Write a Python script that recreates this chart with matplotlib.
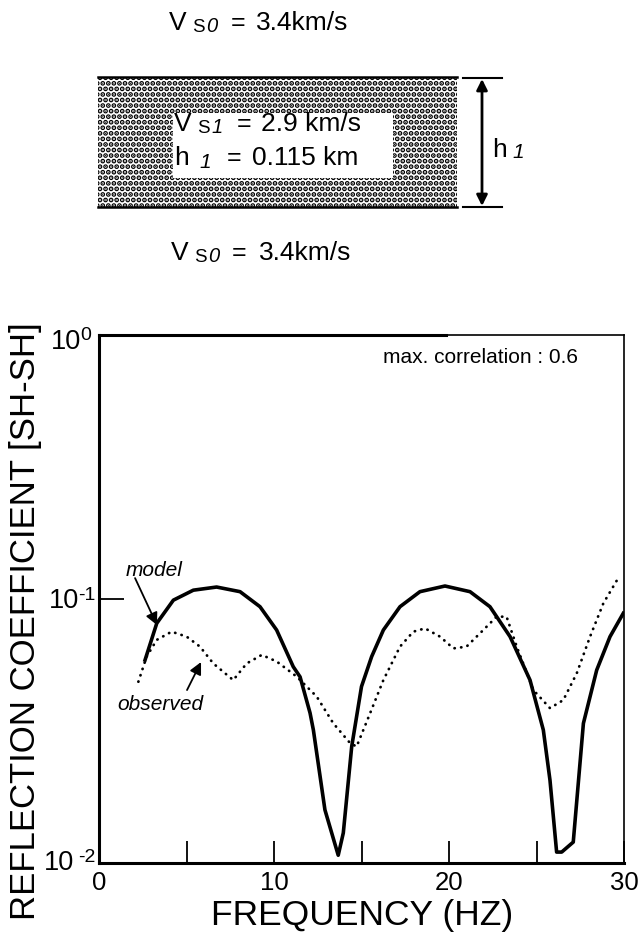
import matplotlib
matplotlib.use('Agg')
import matplotlib.pyplot as plt
from matplotlib.patches import Rectangle
from matplotlib.ticker import NullLocator

plt.rcParams['font.family'] = ['Liberation Sans', 'DejaVu Sans']
plt.rcParams['hatch.linewidth'] = 2.5

# model reflection coefficient (thick solid line)
model_freq = [2.63, 3.30, 4.25, 5.39, 6.72, 8.06, 9.20, 10.15, 11.10, 11.49,
              12.06, 12.25, 12.91, 13.67, 13.96, 14.44, 15.00, 15.58, 16.25,
              17.20, 18.34, 19.77, 21.20, 22.34, 23.49, 24.63, 25.39, 25.77,
              26.15, 26.44, 27.10, 27.68, 28.44, 29.20, 29.96]
model_refl = [0.0587, 0.0809, 0.099, 0.108, 0.111, 0.1066, 0.0935, 0.0763,
              0.0554, 0.0507, 0.037, 0.0319, 0.0159, 0.0107, 0.013, 0.0276,
              0.0466, 0.0605, 0.0763, 0.0935, 0.1066, 0.112, 0.1066, 0.0935,
              0.072, 0.0493, 0.0319, 0.0206, 0.011, 0.011, 0.012, 0.0338,
              0.0538, 0.072, 0.0883]

# observed reflection coefficient (dotted line)
obs_freq = [2.25, 2.72, 3.30, 4.15, 5.01, 5.77, 6.53, 7.67, 8.44, 9.30, 10.15,
            11.30, 12.44, 13.39, 14.34, 14.72, 15.49, 16.25, 17.20, 17.96,
            18.63, 19.49, 20.25, 21.00, 21.96, 22.72, 23.29, 23.87, 24.82,
            25.77, 26.53, 27.30, 28.06, 28.82, 29.67]
obs_refl = [0.0486, 0.0605, 0.070, 0.0752, 0.072, 0.066, 0.057, 0.0493, 0.057,
            0.0614, 0.058, 0.0508, 0.0427, 0.0338, 0.0285, 0.0276, 0.0369,
            0.0493, 0.066, 0.0752, 0.0774, 0.072, 0.065, 0.066, 0.0763, 0.0857,
            0.0857, 0.066, 0.0452, 0.0386, 0.0414, 0.0523, 0.072, 0.0963, 0.12]

x_ticks = [0, 10, 20, 30]
x_minor = [5, 15, 25]
y_ticks = [0.01, 0.1, 1.0]
y_exps = ['-2', '-1', '0']

fig = plt.figure(figsize=(6.4, 9.33), dpi=100)

# overlay in pixel coordinates for the layer sketch
ov = fig.add_axes([0, 0, 1, 1])
ov.set_xlim(0, 640)
ov.set_ylim(933, 0)
ov.axis('off')

layer = Rectangle((98, 77), 359, 130, facecolor='white', edgecolor='black',
                  hatch='...', linewidth=0)
ov.add_patch(layer)
ov.add_patch(Rectangle((173, 113), 220, 65, facecolor='white', edgecolor='none'))
ov.plot([98, 457], [77, 77], color='black', lw=1.8)
ov.plot([98, 457], [207, 207], color='black', lw=1.8)
ov.plot([463, 502], [78, 78], color='black', lw=1.5)
ov.plot([463, 502], [207, 207], color='black', lw=1.5)
ov.annotate('', xy=(482, 79), xytext=(482, 206),
            arrowprops=dict(arrowstyle='<|-|>', lw=2, color='black',
                            mutation_scale=16, shrinkA=0, shrinkB=0))


def velocity(x, y, sub, x_eq, x_val, value):
    # V with a small upright S and an italic index, then the value
    ov.text(x - 2, y, 'V', fontsize=19, va='baseline')
    ov.text(x + 21, y + 2, 'S', fontsize=13.5, va='baseline')
    ov.text(x + 35, y + 2, sub, fontsize=14.5, style='italic', va='baseline')
    ov.text(x_eq - 1, y, '=', fontsize=18, va='baseline')
    ov.text(x_val - 1, y, value, fontsize=19, va='baseline')


velocity(171, 30, '0', 232, 257, '3.4km/s')
velocity(173, 260, '0', 233, 260, '3.4km/s')
velocity(176, 131, '1', 238, 262, '2.9 km/s')
ov.text(174, 165, 'h', fontsize=19, va='baseline')
ov.text(199, 168, '1', fontsize=15, style='italic', va='baseline')
ov.text(227, 165, '=', fontsize=18, va='baseline')
ov.text(252, 165, '0.115 km', fontsize=19, va='baseline')
ov.text(492, 157, 'h', fontsize=19, va='baseline')
ov.text(512, 158, '1', fontsize=15, style='italic', va='baseline')

# main chart
ax = fig.add_axes([99 / 640, 1 - 863 / 933, 525 / 640, 528 / 933])
ax.set_yscale('log')
ax.plot(model_freq, model_refl, color='black', lw=2.6, solid_joinstyle='round')
ax.plot(obs_freq, obs_refl, color='black', lw=2.0, linestyle=(0, (0.1, 2.3)),
        dash_capstyle='round')
ax.set_xlim(0, 30)
ax.set_ylim(0.01, 1)

ax.set_xticks(x_ticks)
ax.set_xticks(x_minor, minor=True)
ax.set_yticks(y_ticks)
ax.set_yticklabels([])
ax.yaxis.set_minor_locator(NullLocator())
ax.tick_params(axis='x', which='both', direction='in', length=16, width=1.3,
               labelsize=18.5, pad=6, top=False)
ax.tick_params(axis='y', which='major', direction='in', length=18, width=1.3,
               right=False)

# "10" and exponent offsets in points: (base dx, base dy, exp dx, exp dy)
label_offsets = {'0': (-13.0, -5.0, -5.8, -0.5),
                 '-1': (-14.4, -1.5, -2.2, 2.5),
                 '-2': (-18.0, 0.0, -2.2, 4.0)}
for val, ex in zip(y_ticks, y_exps):
    bdx, bdy, edx, edy = label_offsets[ex]
    ax.annotate('10', xy=(0, val), xycoords=('axes fraction', 'data'),
                xytext=(bdx, bdy), textcoords='offset points',
                fontsize=19.5, ha='right', va='center')
    ax.annotate(ex, xy=(0, val), xycoords=('axes fraction', 'data'),
                xytext=(edx, edy), textcoords='offset points',
                fontsize=14, ha='right', va='center')

for side in ['left', 'bottom']:
    ax.spines[side].set_linewidth(2.2)
for side in ['top', 'right']:
    ax.spines[side].set_linewidth(1.2)
ax.axhline(1.0, xmin=0, xmax=0.66, color='black', lw=2.2, clip_on=False)

ax.text(0.912, 0.958, 'max. correlation : 0.6', transform=ax.transAxes,
        fontsize=15, ha='right', va='center')

ax.text(3.15, 0.128, 'model', fontsize=15, style='italic', ha='center', va='center')
ax.annotate('', xy=(3.31, 0.0797), xytext=(2.06, 0.120),
            arrowprops=dict(arrowstyle='-|>', color='black', lw=1.3,
                            mutation_scale=18, shrinkA=0, shrinkB=0))
ax.text(3.5, 0.0397, 'observed', fontsize=15, style='italic', ha='center', va='center')
ax.annotate('', xy=(5.83, 0.0577), xytext=(5.03, 0.0452),
            arrowprops=dict(arrowstyle='-|>', color='black', lw=1.3,
                            mutation_scale=18, shrinkA=0, shrinkB=0))

fig.text(362 / 640, 1 - 916 / 933, 'FREQUENCY (HZ)', fontsize=25.5,
         ha='center', va='center')
fig.text(26 / 640, 1 - 621 / 933, 'REFLECTION COEFFICIENT [SH-SH]', fontsize=25,
         ha='center', va='center', rotation=90)

fig.savefig('out.png', dpi=100)
